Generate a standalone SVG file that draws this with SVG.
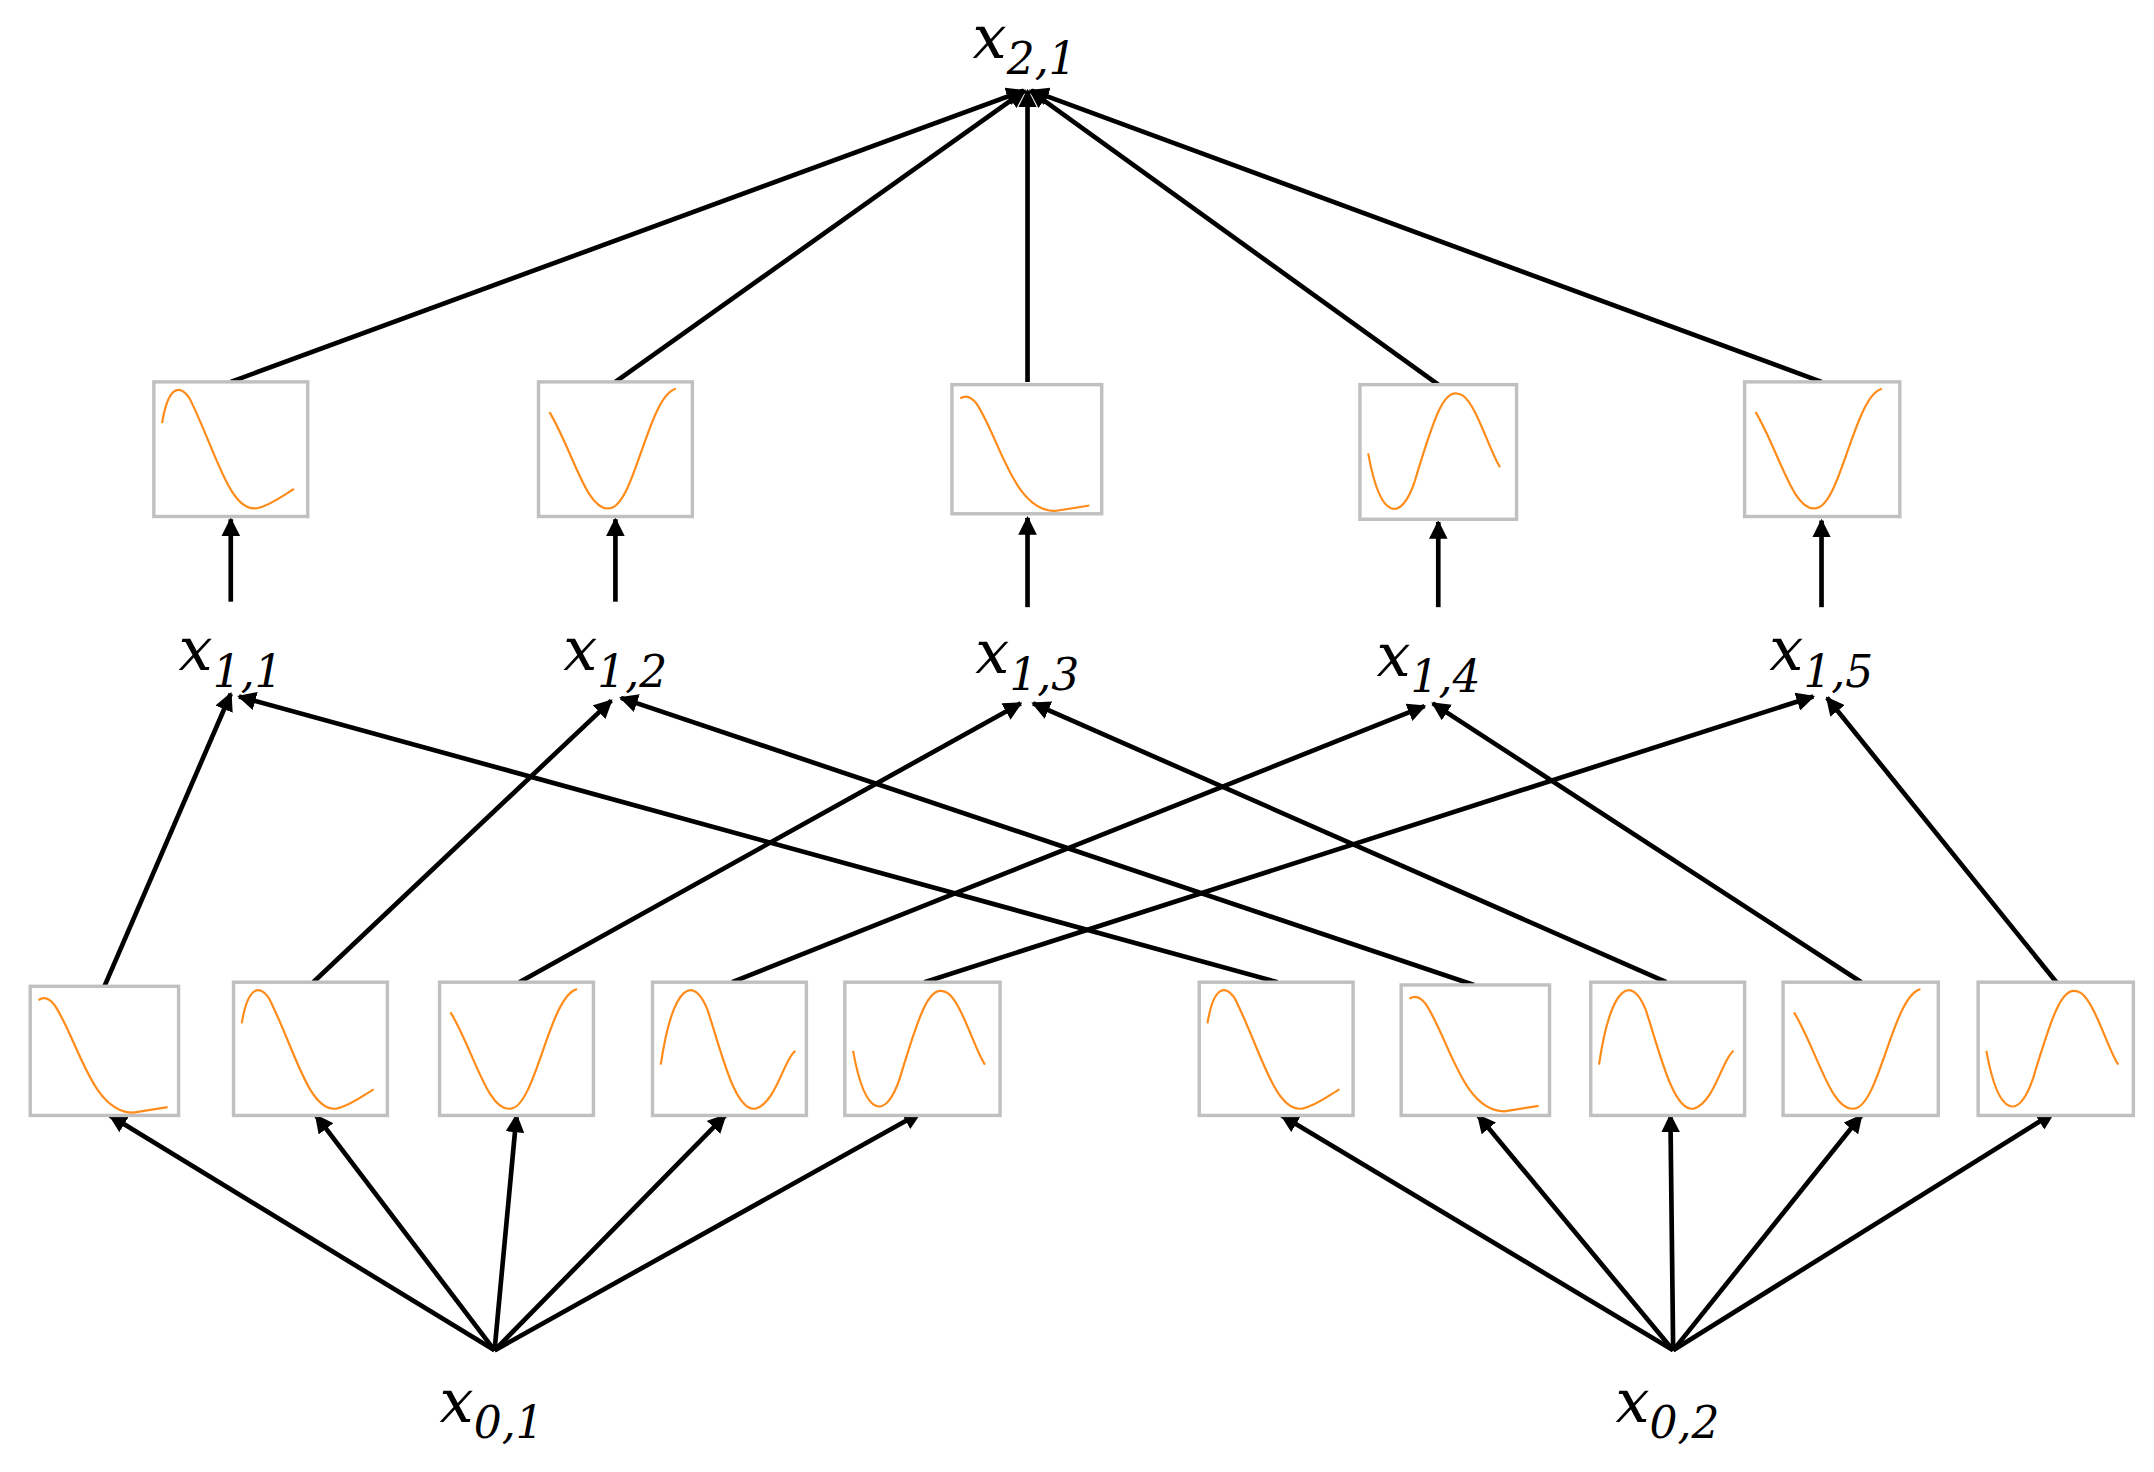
<svg xmlns="http://www.w3.org/2000/svg" width="2154" height="1472" viewBox="0 0 2154 1472">
<defs>
<style>
.box{fill:#fff;stroke:#c0c0c0;stroke-width:2.5}
.cv{fill:none;stroke:#ff8c1a;stroke-width:1.6}
.ln{stroke:#000;stroke-width:3.4;fill:none}
.ar{stroke:#000;stroke-width:3.4;fill:none;marker-end:url(#ah)}
.lb{font-family:"DejaVu Serif","Liberation Serif",serif;font-style:italic;font-size:44px}
.sb{font-family:"DejaVu Serif","Liberation Serif",serif;font-size:32px}
</style>
<marker id="ah" viewBox="0 0 10 10" refX="9" refY="5" markerWidth="4" markerHeight="4" orient="auto" markerUnits="strokeWidth"><path d="M0,0 L10,5 L0,10 z" fill="#000"/></marker>
<path id="cA" d="M6,10 Q12,6 18,14 C35,40 45,92 75,92 L100,88"/>
<path id="cB" d="M6,30 C10,5 18,0 26,12 C45,50 55,95 75,92 C85,90 95,82 102,78"/>
<path id="cV" d="M8,22 C25,50 35,95 52,92 C70,90 80,10 100,5"/>
<path id="cS" d="M6,60 C15,0 30,-5 40,20 C50,50 60,95 75,92 C90,88 96,55 104,50"/>
<path id="cN" d="M6,50 C15,100 30,100 40,70 C55,20 62,0 75,8 C85,15 95,50 102,60"/>
</defs>
<g transform="scale(1.3737)">
<g id="connectors">
<line class="ar" x1="168" y1="278" x2="745" y2="66"/>
<line class="ar" x1="448" y1="278" x2="746" y2="66"/>
<line class="ar" x1="748" y1="278" x2="748" y2="66"/>
<line class="ar" x1="1047" y1="280" x2="750" y2="66"/>
<line class="ar" x1="1326" y1="278" x2="751" y2="66"/>
<line class="ar" x1="168" y1="438" x2="168" y2="378"/>
<line class="ar" x1="448" y1="438" x2="448" y2="378"/>
<line class="ar" x1="748" y1="442" x2="748" y2="377"/>
<line class="ar" x1="1047" y1="442" x2="1047" y2="380"/>
<line class="ar" x1="1326" y1="442" x2="1326" y2="379"/>
<line class="ar" x1="76" y1="718" x2="168" y2="505"/>
<line class="ar" x1="228" y1="715" x2="445" y2="510"/>
<line class="ar" x1="378" y1="715" x2="743" y2="512"/>
<line class="ar" x1="533" y1="715" x2="1037" y2="514"/>
<line class="ar" x1="673" y1="715" x2="1320" y2="507"/>
<line class="ar" x1="930" y1="715" x2="174" y2="507"/>
<line class="ar" x1="1073" y1="717" x2="452" y2="508"/>
<line class="ar" x1="1213" y1="715" x2="752" y2="512"/>
<line class="ar" x1="1355" y1="715" x2="1043" y2="512"/>
<line class="ar" x1="1497" y1="715" x2="1330" y2="508"/>
<line class="ar" x1="360" y1="983" x2="80" y2="812"/>
<line class="ar" x1="360" y1="983" x2="230" y2="812"/>
<line class="ar" x1="360" y1="983" x2="376" y2="812"/>
<line class="ar" x1="360" y1="983" x2="528" y2="812"/>
<line class="ar" x1="360" y1="983" x2="670" y2="810"/>
<line class="ar" x1="1218" y1="983" x2="933" y2="812"/>
<line class="ar" x1="1218" y1="983" x2="1076" y2="812"/>
<line class="ar" x1="1218" y1="983" x2="1216" y2="812"/>
<line class="ar" x1="1218" y1="983" x2="1355" y2="812"/>
<line class="ar" x1="1218" y1="983" x2="1495" y2="810"/>
</g>
<g id="t1" transform="translate(112,278)"><rect class="box" width="112" height="98"/><use href="#cB" class="cv"/></g>
<g id="t2" transform="translate(392,278)"><rect class="box" width="112" height="98"/><use href="#cV" class="cv"/></g>
<g id="t3" transform="translate(693,280)"><rect class="box" width="109" height="94"/><use href="#cA" class="cv"/></g>
<g id="t4" transform="translate(990,280)"><rect class="box" width="114" height="98"/><use href="#cN" class="cv"/></g>
<g id="t5" transform="translate(1270,278)"><rect class="box" width="113" height="98"/><use href="#cV" class="cv"/></g>
<g id="b1" transform="translate(22,718)"><rect class="box" width="108" height="94"/><use href="#cA" class="cv"/></g>
<g id="b2" transform="translate(170,715)"><rect class="box" width="112" height="97"/><use href="#cB" class="cv"/></g>
<g id="b3" transform="translate(320,715)"><rect class="box" width="112" height="97"/><use href="#cV" class="cv"/></g>
<g id="b4" transform="translate(475,715)"><rect class="box" width="112" height="97"/><use href="#cS" class="cv"/></g>
<g id="b5" transform="translate(615,715)"><rect class="box" width="113" height="97"/><use href="#cN" class="cv"/></g>
<g id="b6" transform="translate(873,715)"><rect class="box" width="112" height="97"/><use href="#cB" class="cv"/></g>
<g id="b7" transform="translate(1020,717)"><rect class="box" width="108" height="95"/><use href="#cA" class="cv"/></g>
<g id="b8" transform="translate(1158,715)"><rect class="box" width="112" height="97"/><use href="#cS" class="cv"/></g>
<g id="b9" transform="translate(1298,715)"><rect class="box" width="113" height="97"/><use href="#cV" class="cv"/></g>
<g id="b10" transform="translate(1440,715)"><rect class="box" width="113" height="97"/><use href="#cN" class="cv"/></g>
<g id="x21"><text x="708" y="42" class="lb">x<tspan class="sb" dy="12">2,1</tspan></text></g>
<g id="x11"><text x="130" y="488" class="lb">x<tspan class="sb" dy="12">1,1</tspan></text></g>
<g id="x12"><text x="410" y="488" class="lb">x<tspan class="sb" dy="12">1,2</tspan></text></g>
<g id="x13"><text x="710" y="490" class="lb">x<tspan class="sb" dy="12">1,3</tspan></text></g>
<g id="x14"><text x="1002" y="492" class="lb">x<tspan class="sb" dy="12">1,4</tspan></text></g>
<g id="x15"><text x="1288" y="488" class="lb">x<tspan class="sb" dy="12">1,5</tspan></text></g>
<g id="x01"><text x="320" y="1035" class="lb">x<tspan class="sb" dy="12">0,1</tspan></text></g>
<g id="x02"><text x="1176" y="1035" class="lb">x<tspan class="sb" dy="12">0,2</tspan></text></g>
</g>
</svg>
